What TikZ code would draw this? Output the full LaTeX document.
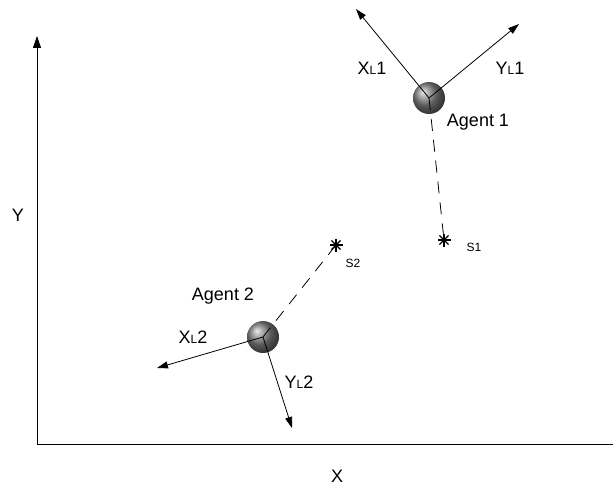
\documentclass[tikz,border=0pt]{standalone}
\usepackage{fontspec}
\setmainfont{Liberation Sans}
\usetikzlibrary{arrows.meta}
\tikzset{
    axis/.style={black, line width=0.8pt, -{Triangle[length=12pt,width=8pt]}},
    frame/.style={black, line width=0.8pt, -{Triangle[length=11pt,width=7pt]}},
    agent/.style={circle, minimum size=32pt, inner sep=0pt, ball color=black!50},
    sightline/.style={black, line width=0.8pt, dash pattern=on 12pt off 9pt},
    lbl/.style={font=\fontsize{18}{20}\selectfont, inner sep=0pt},
    sig/.style={font=\fontsize{12}{14}\selectfont, inner sep=0pt}
}
\newcommand{\sub}[1]{{\fontsize{12}{12}\selectfont #1}}
\begin{document}
\begin{tikzpicture}[x=1pt, y=-1pt]
        \useasboundingbox (0,0) rectangle (613,487);
    % Axes of the world frame.
        \coordinate (origin) at (37,444);
        \coordinate (ytop) at (37,36);
        \coordinate (xend) at (625,444);
        \draw[axis] (origin) -- (ytop);
        \draw[axis] (origin) -- (xend);
        \node[lbl] (ylabel) at (18,215) {Y};
        \node[lbl] (xlabel) at (337,476) {X};
    % Agents as balls.
        \node[agent] (agent1) at (429,98) {};
        \node[agent] (agent2) at (263,337) {};
    % Sources.
        \coordinate (s1) at (444,240);
        \coordinate (s2) at (336,245);
        \foreach \s in {s1,s2}
            \foreach \a in {0,45,90,135}
                \draw[black, line width=1.2pt] (\s) ++(\a:6.5) -- ++(\a+180:13);
        \node[sig] (s1label) at (474,247) {S1};
        \node[sig] (s2label) at (353,263) {S2};
    % Local frames.
        \coordinate (xl1) at (356,9);
        \coordinate (yl1) at (519,24);
        \coordinate (xl2) at (157,368);
        \coordinate (yl2) at (292,428);
        \draw[frame] (agent1.center) -- (xl1);
        \draw[frame] (agent1.center) -- (yl1);
        \draw[frame] (agent2.center) -- (xl2);
        \draw[frame] (agent2.center) -- (yl2);
    % Dashed lines to the sources.
        \draw[sightline] (agent1.center) -- (s1);
        \draw[sightline] (agent2.center) -- (s2);
    % Below nodes are the labels.
        \node[lbl] (xl1label) at (372,68) {X\sub{L}1};
        \node[lbl] (yl1label) at (510,68) {Y\sub{L}1};
        \node[lbl] (agent1label) at (478,122) {Agent 1};
        \node[lbl] (xl2label) at (193,337) {X\sub{L}2};
        \node[lbl] (yl2label) at (299,382) {Y\sub{L}2};
        \node[lbl] (agent2label) at (223,296) {Agent 2};
    \end{tikzpicture}
\end{document}
